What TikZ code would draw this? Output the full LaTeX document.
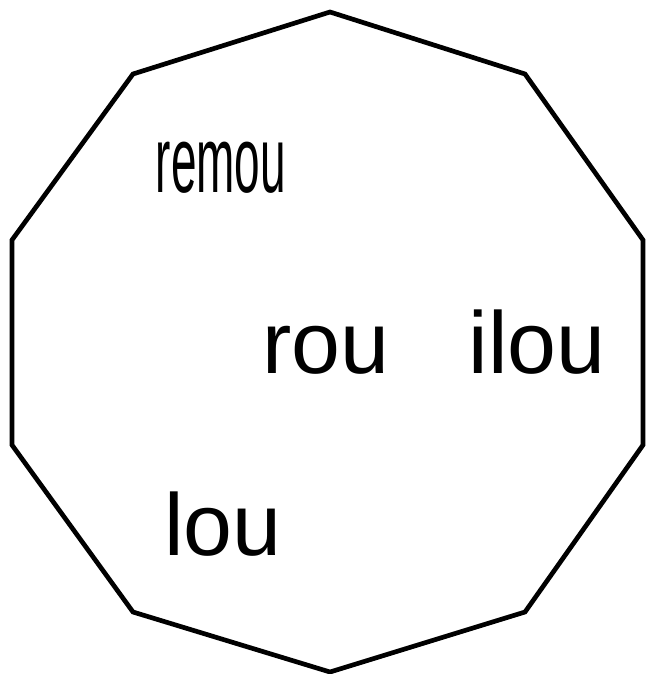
\documentclass[tikz,border=0pt]{standalone}
\usepackage{fontspec}
\setmainfont{Liberation Sans}
\usepackage{graphicx}

\begin{document}
\begin{tikzpicture}[x=0.03cm,y=-0.03cm,
    word/.style={anchor=base,inner sep=0pt,font=\fontsize{75}{80}\selectfont}]
  \useasboundingbox (0,0) rectangle (645,674);
  \draw[line width=4pt,line join=miter]
    (330,12)--(525,74)--(643,240)--(643,445)--(525,612)--(330,672)--(133,612)--(12,445)--(12,240)--(133,74)--cycle;
  \node[word,font=\fontsize{80}{84}\selectfont] (remou) at (221,192) {\scalebox{0.49}[1]{remou}};
  \node[word] (rou) at (326,373) {rou};
  \node[word] (ilou) at (537,373) {ilou};
  \node[word] (lou) at (223,555) {lou};
\end{tikzpicture}
\end{document}
